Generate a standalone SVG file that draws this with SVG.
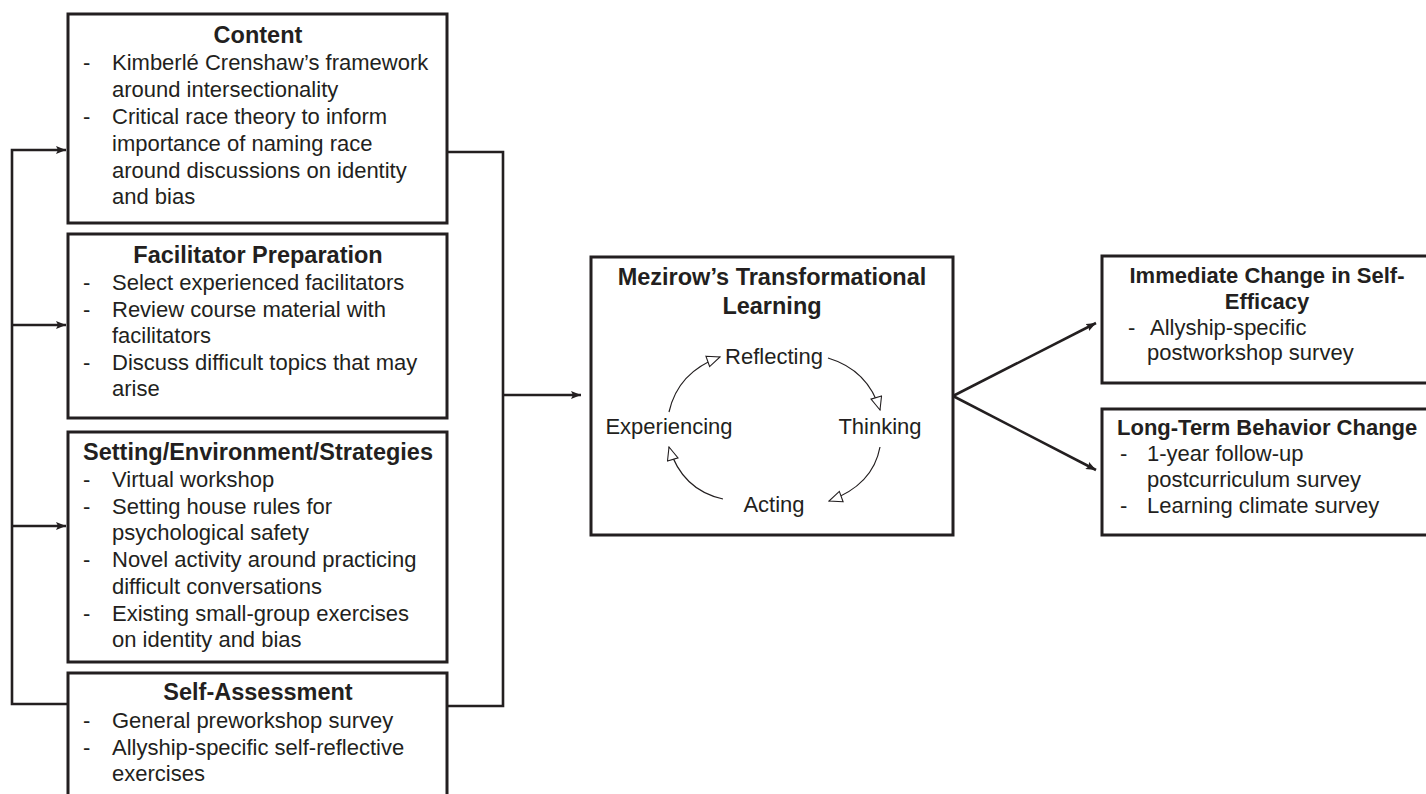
<svg xmlns="http://www.w3.org/2000/svg" width="1426" height="794" viewBox="0 0 1426 794">
<defs>
<style>
.box{fill:#fff;stroke:#231f20;stroke-width:3}
.con{fill:none;stroke:#231f20;stroke-width:2.6}
.cyc{fill:none;stroke:#231f20;stroke-width:1.2}
text{font-family:"Liberation Sans",Arial,sans-serif;fill:#231f20;font-size:22px}
.t{font-weight:bold;font-size:23.5px;text-anchor:middle}
.tr{font-weight:bold;font-size:22px}
.c{text-anchor:middle}
</style>
<marker id="ah" markerUnits="userSpaceOnUse" markerWidth="10" markerHeight="8" viewBox="0 0 10 8" refX="10" refY="4" orient="auto">
<path d="M0,0 L10,4 L0,8 L2,4 z" fill="#231f20"/>
</marker>
<marker id="oh" markerUnits="userSpaceOnUse" markerWidth="15" markerHeight="13" viewBox="-1 -1 15 13" refX="13" refY="5.5" orient="auto">
<path d="M0,0 L13,5.5 L0,11 z" fill="#fff" stroke="#231f20" stroke-width="1.1"/>
</marker>
</defs>
<rect width="1426" height="794" fill="#fff"/>

<g id="connectors">
<path class="con" d="M68,704 L12,704 L12,150 L66,150" marker-end="url(#ah)"/>
<path class="con" d="M12,325 L66,325" marker-end="url(#ah)"/>
<path class="con" d="M12,526 L66,526" marker-end="url(#ah)"/>
<path class="con" d="M447,152 L503,152 L503,706 L447,706"/>
<path class="con" d="M503,395 L581,395" marker-end="url(#ah)"/>
<path class="con" d="M953,396 L1096,323" marker-end="url(#ah)"/>
<path class="con" d="M953,396 L1096,470" marker-end="url(#ah)"/>
</g>

<g id="content">
<rect class="box" x="68" y="14" width="379" height="209"/>
<text class="t" x="258" y="43">Content</text>
<text x="83" y="70">-</text><text x="112" y="70">Kimberlé Crenshaw’s framework</text>
<text x="112" y="97">around intersectionality</text>
<text x="83" y="124">-</text><text x="112" y="124">Critical race theory to inform</text>
<text x="112" y="151">importance of naming race</text>
<text x="112" y="178">around discussions on identity</text>
<text x="112" y="204">and bias</text>
</g>

<g id="facilitator">
<rect class="box" x="68" y="234" width="379" height="184"/>
<text class="t" x="258" y="263">Facilitator Preparation</text>
<text x="83" y="290">-</text><text x="112" y="290">Select experienced facilitators</text>
<text x="83" y="317">-</text><text x="112" y="317">Review course material with</text>
<text x="112" y="343">facilitators</text>
<text x="83" y="370">-</text><text x="112" y="370">Discuss difficult topics that may</text>
<text x="112" y="396">arise</text>
</g>

<g id="setting">
<rect class="box" x="68" y="432" width="379" height="230"/>
<text class="t" x="258" y="460">Setting/Environment/Strategies</text>
<text x="83" y="487">-</text><text x="112" y="487">Virtual workshop</text>
<text x="83" y="514">-</text><text x="112" y="514">Setting house rules for</text>
<text x="112" y="540">psychological safety</text>
<text x="83" y="567">-</text><text x="112" y="567">Novel activity around practicing</text>
<text x="112" y="594">difficult conversations</text>
<text x="83" y="621">-</text><text x="112" y="621">Existing small-group exercises</text>
<text x="112" y="647">on identity and bias</text>
</g>

<g id="selfassessment">
<rect class="box" x="68" y="673" width="379" height="140"/>
<text class="t" x="258" y="700">Self-Assessment</text>
<text x="83" y="728">-</text><text x="112" y="728">General preworkshop survey</text>
<text x="83" y="755">-</text><text x="112" y="755">Allyship-specific self-reflective</text>
<text x="112" y="781">exercises</text>
</g>

<g id="mezirow">
<rect class="box" x="591" y="257" width="362" height="278"/>
<text class="t" x="772" y="285">Mezirow’s Transformational</text>
<text class="t" x="772" y="314">Learning</text>
<text class="c" x="774" y="364">Reflecting</text>
<text class="c" x="669" y="434">Experiencing</text>
<text class="c" x="880" y="434">Thinking</text>
<text class="c" x="774" y="512">Acting</text>
<path class="cyc" d="M669,412 Q678,372 720,357" marker-end="url(#oh)"/>
<path class="cyc" d="M828,358 Q868,370 880,410" marker-end="url(#oh)"/>
<path class="cyc" d="M880,447 Q873,485 829,501" marker-end="url(#oh)"/>
<path class="cyc" d="M723,499 Q682,490 669,447" marker-end="url(#oh)"/>
</g>

<g id="immediate">
<rect class="box" x="1102" y="256" width="340" height="127"/>
<text class="tr c" x="1267" y="283">Immediate Change in Self-</text>
<text class="tr c" x="1267" y="309">Efficacy</text>
<text x="1128" y="335">-</text><text x="1150" y="335">Allyship-specific</text>
<text x="1147" y="360">postworkshop survey</text>
</g>

<g id="longterm">
<rect class="box" x="1102" y="409" width="340" height="126"/>
<text class="tr" x="1117" y="435">Long-Term Behavior Change</text>
<text x="1120" y="461">-</text><text x="1147" y="461">1-year follow-up</text>
<text x="1147" y="487">postcurriculum survey</text>
<text x="1120" y="513">-</text><text x="1147" y="513">Learning climate survey</text>
</g>
</svg>
